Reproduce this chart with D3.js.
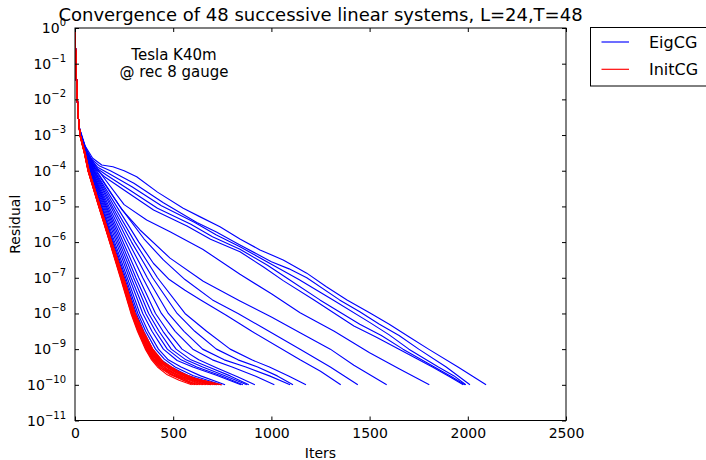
<!DOCTYPE html>
<html><head><meta charset="utf-8">
<script src="https://cdn.jsdelivr.net/npm/d3@7"></script>
<style>
body{margin:0;background:#fff}
svg{display:block}
text{font-family:"DejaVu Sans",sans-serif;fill:#000}
</style>
</head><body><svg id="c" width="706" height="460"></svg>
<script>
// ---- data: [iteration, log10(residual)] ----
const xTicks = [0, 500, 1000, 1500, 2000, 2500];
const yTickExps = [0, -1, -2, -3, -4, -5, -6, -7, -8, -9, -10, -11];
const seriesNames = ["EigCG", "InitCG"];
const titleText = "Convergence of 48 successive linear systems, L=24,T=48";
const noteLines = ["Tesla K40m", "@ rec 8 gauge"];

// shared start of every solve
const startPts = [[0,0],[2,-0.5],[5,-1],[8,-1.5],[12,-2],[17,-2.5],[22,-2.8]];

// EigCG solves
const eig01 = [[26,-3],[50,-3.5],[73,-4],[130,-5],[188,-6],[246,-7],[305,-8],[340,-8.5],[380,-9],[420,-9.3],[470,-9.5],[560,-9.75],[690,-10]];
const eig02 = [[26,-3],[51,-3.5],[74,-4],[133,-5],[192,-6],[252,-7],[312,-8],[350,-8.5],[395,-9],[440,-9.3],[490,-9.5],[580,-9.75],[720,-10]];
const eig03 = [[27,-3],[52,-3.5],[75,-4],[136,-5],[196,-6],[258,-7],[320,-8],[360,-8.5],[410,-9],[455,-9.28],[510,-9.5],[600,-9.74],[745,-10]];
const eig04 = [[27,-3],[52,-3.5],[76,-4],[140,-5],[202,-6],[266,-7],[330,-8],[372,-8.5],[425,-9],[475,-9.3],[540,-9.5],[640,-9.75],[764,-10]];
const eig05 = [[27,-3],[53,-3.5],[78,-4],[145,-5],[210,-6],[276,-7],[345,-8],[392,-8.5],[450,-9],[520,-9.32],[600,-9.5],[720,-9.73],[845,-10]];
const eig06 = [[28,-3],[53,-3.5],[80,-4],[150,-5],[218,-6],[286,-7],[360,-8],[410,-8.5],[470,-9],[540,-9.3],[620,-9.5],[740,-9.74],[855,-10]];
const eig07 = [[28,-3],[54,-3.5],[82,-4],[155,-5],[226,-6],[298,-7],[375,-8],[428,-8.5],[490,-9],[565,-9.3],[650,-9.5],[770,-9.76],[875,-10]];
const eig08 = [[28,-3],[55,-3.5],[84,-4],[160,-5],[235,-6],[310,-7],[392,-8],[448,-8.5],[515,-9],[590,-9.3],[680,-9.5],[790,-9.75],[885,-10]];
const eig09 = [[29,-3],[55,-3.5],[86,-4],[166,-5],[245,-6],[325,-7],[410,-8],[472,-8.5],[545,-9],[630,-9.3],[720,-9.52],[830,-9.78],[916,-10]];
const eig10 = [[29,-3],[56,-3.5],[89,-4],[173,-5],[258,-6],[345,-7],[440,-8],[510,-8.5],[600,-9],[700,-9.3],[800,-9.5],[920,-9.76],[1015,-10]];
const eig11 = [[29,-3],[57,-3.5],[92,-4],[182,-5],[272,-6],[368,-7],[475,-8],[555,-8.5],[650,-9],[760,-9.3],[870,-9.5],[990,-9.75],[1095,-10]];
const eig12 = [[30,-3],[58,-3.5],[95,-4],[190,-5],[288,-6],[395,-7],[520,-8],[610,-8.5],[720,-9],[830,-9.3],[930,-9.5],[1030,-9.75],[1110,-10]];
const eig13 = [[30,-3],[59,-3.5],[98,-4],[200,-5],[305,-6],[420,-7],[560,-8],[670,-8.5],[790,-9],[900,-9.3],[990,-9.5],[1090,-9.76],[1176,-10]];
const eig14 = [[30,-3],[60,-3.5],[100,-4],[212,-5],[325,-6],[400,-6.6],[480,-7.05],[560,-7.35],[640,-7.62],[770,-8.05],[900,-8.5],[1146,-9.3],[1250,-9.62],[1353,-10]];
const eig15 = [[31,-3],[61,-3.5],[105,-4],[228,-5],[350,-5.9],[450,-6.5],[560,-7.05],[700,-7.62],[830,-8.0],[950,-8.38],[1146,-9.0],[1300,-9.5],[1440,-10]];
const eig16 = [[31,-3],[62,-3.5],[110,-4],[240,-5.1],[331,-5.66],[484,-6.45],[653,-7.1],[840,-7.65],[1000,-8.1],[1146,-8.54],[1300,-9.0],[1420,-9.45],[1587,-10]];
const eig17 = [[31,-3],[64,-3.5],[120,-4],[250,-4.95],[365,-5.38],[484,-5.71],[650,-6.2],[840,-6.9],[1000,-7.45],[1146,-7.98],[1320,-8.5],[1500,-9.1],[1650,-9.55],[1804,-10]];
const eig18 = [[31,-3],[47,-3.35],[76,-3.72],[105,-3.95],[150,-4.17],[270,-4.62],[400,-5.1],[570,-5.55],[690,-5.92],[840,-6.27],[960,-6.7],[1060,-7.08],[1217,-7.62],[1420,-8.35],[1530,-8.65],[1650,-9.0],[1820,-9.5],[1910,-9.78],[1977,-10]];
const eig19 = [[32,-3],[48,-3.34],[78,-3.7],[110,-3.93],[160,-4.12],[280,-4.55],[420,-5.05],[590,-5.5],[700,-5.85],[840,-6.2],[980,-6.65],[1090,-7.05],[1247,-7.62],[1450,-8.3],[1560,-8.62],[1670,-9.0],[1830,-9.5],[1920,-9.78],[1985,-10]];
const eig20 = [[32,-3],[49,-3.33],[80,-3.68],[115,-3.9],[170,-4.07],[290,-4.45],[440,-4.98],[610,-5.45],[720,-5.8],[840,-6.13],[1000,-6.62],[1140,-7.05],[1314,-7.62],[1500,-8.25],[1600,-8.6],[1700,-9.0],[1850,-9.5],[1930,-9.75],[1990,-10]];
const eig21 = [[33,-3],[50,-3.32],[85,-3.68],[125,-3.87],[180,-4.0],[300,-4.35],[450,-4.9],[620,-5.45],[720,-5.72],[840,-6.08],[1000,-6.55],[1090,-6.75],[1180,-7.0],[1347,-7.62],[1450,-7.95],[1550,-8.3],[1650,-8.62],[1750,-9.0],[1890,-9.5],[2011,-10]];
const eig22 = [[34,-3],[51,-3.3],[90,-3.65],[136,-3.84],[193,-3.89],[250,-4.0],[314,-4.17],[420,-4.6],[551,-5.05],[640,-5.3],[738,-5.57],[842,-5.92],[942,-6.22],[1060,-6.5],[1180,-6.87],[1280,-7.25],[1385,-7.62],[1500,-7.98],[1600,-8.3],[1700,-8.65],[1800,-9.0],[1950,-9.5],[2093,-10]];

// InitCG solves
const ini01 = [[25,-3],[47,-3.5],[66,-4],[120,-5],[176,-6],[231,-7],[285,-8],[318,-8.5],[358,-9],[390,-9.3],[420,-9.5],[470,-9.72],[530,-9.87],[594,-10]];
const ini02 = [[25,-3],[47,-3.5],[66,-4],[121,-5],[177,-6],[233,-7],[287,-8],[321,-8.5],[361,-9],[395,-9.3],[428,-9.5],[480,-9.7],[545,-9.86],[603,-10]];
const ini03 = [[25,-3],[48,-3.5],[67,-4],[121,-5],[178,-6],[234,-7],[289,-8],[323,-8.5],[364,-9],[398,-9.3],[434,-9.52],[490,-9.7],[556,-9.88],[612,-10]];
const ini04 = [[25,-3],[48,-3.5],[67,-4],[122,-5],[178,-6],[235,-7],[290,-8],[325,-8.5],[366,-9],[402,-9.3],[440,-9.5],[502,-9.74],[560,-9.85],[620,-10]];
const ini05 = [[25,-3],[48,-3.5],[67,-4],[122,-5],[179,-6],[236,-7],[292,-8],[327,-8.5],[368,-9],[405,-9.3],[446,-9.52],[510,-9.72],[575,-9.9],[628,-10]];
const ini06 = [[25,-3],[48,-3.5],[68,-4],[123,-5],[180,-6],[237,-7],[293,-8],[329,-8.5],[370,-9],[408,-9.32],[452,-9.5],[520,-9.75],[585,-9.88],[636,-10]];
const ini07 = [[26,-3],[49,-3.5],[68,-4],[123,-5],[180,-6],[238,-7],[294,-8],[330,-8.5],[372,-9],[412,-9.3],[458,-9.52],[528,-9.74],[595,-9.87],[645,-10]];
const ini08 = [[26,-3],[49,-3.5],[68,-4],[124,-5],[181,-6],[239,-7],[295,-8],[332,-8.5],[375,-9],[415,-9.3],[465,-9.55],[536,-9.76],[605,-9.9],[652,-10]];
const ini09 = [[26,-3],[49,-3.5],[69,-4],[124,-5],[182,-6],[240,-7],[297,-8],[334,-8.5],[377,-9],[418,-9.32],[470,-9.5],[545,-9.74],[612,-9.88],[660,-10]];
const ini10 = [[26,-3],[49,-3.5],[69,-4],[125,-5],[182,-6],[241,-7],[298,-8],[336,-8.5],[380,-9],[422,-9.3],[478,-9.55],[552,-9.78],[620,-9.9],[668,-10]];
const ini11 = [[26,-3],[50,-3.5],[69,-4],[125,-5],[183,-6],[241,-7],[299,-8],[337,-8.5],[382,-9],[426,-9.33],[484,-9.55],[560,-9.75],[630,-9.89],[676,-10]];
const ini12 = [[26,-3],[50,-3.5],[70,-4],[126,-5],[184,-6],[242,-7],[300,-8],[339,-8.5],[384,-9],[430,-9.32],[490,-9.56],[568,-9.78],[640,-9.9],[684,-10]];
const ini13 = [[26,-3],[50,-3.5],[70,-4],[126,-5],[184,-6],[243,-7],[301,-8],[340,-8.5],[386,-9],[433,-9.34],[496,-9.58],[576,-9.79],[650,-9.91],[693,-10]];
const ini14 = [[27,-3],[50,-3.5],[70,-4],[127,-5],[185,-6],[244,-7],[302,-8],[342,-8.5],[388,-9],[436,-9.33],[502,-9.57],[584,-9.8],[660,-9.92],[702,-10]];
const ini15 = [[27,-3],[51,-3.5],[71,-4],[127,-5],[186,-6],[245,-7],[303,-8],[343,-8.5],[390,-9],[440,-9.35],[508,-9.6],[592,-9.8],[668,-9.9],[712,-10]];
const ini16 = [[27,-3],[51,-3.5],[71,-4],[128,-5],[186,-6],[246,-7],[304,-8],[345,-8.5],[392,-9],[444,-9.35],[514,-9.6],[600,-9.82],[676,-9.93],[722,-10]];
const ini17 = [[27,-3],[51,-3.5],[71,-4],[128,-5],[187,-6],[247,-7],[305,-8],[346,-8.5],[394,-9],[447,-9.36],[520,-9.62],[608,-9.82],[685,-9.92],[733,-10]];
const ini18 = [[27,-3],[52,-3.5],[72,-4],[129,-5],[188,-6],[248,-7],[306,-8],[348,-8.5],[396,-9],[450,-9.36],[526,-9.62],[616,-9.84],[695,-9.93],[747,-10]];

const eigcg = [eig01,eig02,eig03,eig04,eig05,eig06,eig07,eig08,eig09,eig10,eig11,eig12,eig13,eig14,eig15,eig16,eig17,eig18,eig19,eig20,eig21,eig22];
const initcg = [ini01,ini02,ini03,ini04,ini05,ini06,ini07,ini08,ini09,ini10,ini11,ini12,ini13,ini14,ini15,ini16,ini17,ini18];

// ---- drawing ----
const svg = d3.select("#c");
const L = 75, R = 566, T = 28, B = 420.5;
const x = d3.scaleLinear().domain([0, 2500]).range([L, R]);
const y = d3.scaleLog().domain([1e-11, 1]).range([B, T]);

svg.append("defs").append("clipPath").attr("id", "clip")
  .append("rect").attr("x", L).attr("y", T).attr("width", R - L).attr("height", B - T);

const line = d3.line().x(d => x(d[0])).y(d => y(Math.pow(10, d[1])));
const plot = svg.append("g").attr("clip-path", "url(#clip)");

function drawSet(set, color) {
  plot.append("g").selectAll("path").data(set).join("path")
    .attr("d", c => line(startPts.concat(c)))
    .attr("fill", "none").attr("stroke", color)
    .attr("stroke-width", 1.15).attr("stroke-linejoin", "round");
}
drawSet(eigcg, "#0000ff");
drawSet(initcg, "#ff0000");

// axes (ticks inward on all four sides)
const tv = yTickExps.map(e => Math.pow(10, e));
const styleAxis = g => { g.select(".domain").remove(); g.selectAll("line").attr("stroke", "#000"); };
svg.append("g").attr("transform", `translate(0,${B})`)
  .call(d3.axisBottom(x).tickValues(xTicks).tickSize(-4).tickPadding(7.5).tickFormat(d3.format("d")))
  .call(styleAxis)
  .call(g => g.selectAll("text").attr("font-size", 14).attr("font-family", "DejaVu Sans").attr("fill", "#000"));
svg.append("g").attr("transform", `translate(0,${T})`)
  .call(d3.axisTop(x).tickValues(xTicks).tickSize(-4).tickFormat(""))
  .call(styleAxis);
svg.append("g").attr("transform", `translate(${L},0)`)
  .call(d3.axisLeft(y).tickValues(tv).tickSize(-4).tickFormat(""))
  .call(styleAxis);
svg.append("g").attr("transform", `translate(${R},0)`)
  .call(d3.axisRight(y).tickValues(tv).tickSize(-4).tickFormat(""))
  .call(styleAxis);

// y tick labels 10^e
const yl = svg.append("g").selectAll("text").data(yTickExps).join("text")
  .attr("x", 66).attr("y", e => y(Math.pow(10, e)) + 5)
  .attr("text-anchor", "end").attr("font-size", 14);
yl.append("tspan").text("10");
yl.append("tspan").attr("dy", -7).attr("font-size", 10)
  .text(e => (e < 0 ? "\u2212" + (-e) : "" + e));

// frame
svg.append("rect").attr("x", L).attr("y", T).attr("width", R - L).attr("height", B - T)
  .attr("fill", "none").attr("stroke", "#000").attr("stroke-width", 1);

// title & labels
svg.append("text").attr("x", (L + R) / 2).attr("y", 21).attr("text-anchor", "middle")
  .attr("font-size", 18).text(titleText);
svg.append("text").attr("x", (L + R) / 2).attr("y", 458).attr("text-anchor", "middle")
  .attr("font-size", 14).text("Iters");
svg.append("text").attr("transform", `translate(20,${(T + B) / 2}) rotate(-90)`)
  .attr("text-anchor", "middle").attr("font-size", 14).text("Residual");
svg.append("g").selectAll("text").data(noteLines).join("text")
  .attr("x", 174).attr("y", (d, i) => 60 + i * 16.5).attr("text-anchor", "middle")
  .attr("font-size", 15).text(d => d);

// legend
const lg = svg.append("g");
lg.append("rect").attr("x", 590.5).attr("y", 27.5).attr("width", 130).attr("height", 58.5)
  .attr("fill", "#fff").attr("stroke", "#000");
const colors = ["#0000ff", "#ff0000"];
seriesNames.forEach((n, i) => {
  const yy = 42 + i * 27.3;
  lg.append("line").attr("x1", 601.5).attr("x2", 629).attr("y1", yy).attr("y2", yy)
    .attr("stroke", colors[i]).attr("stroke-width", 1.15);
  lg.append("text").attr("x", 649).attr("y", yy + 6).attr("font-size", 16).text(n);
});
</script></body></html>
